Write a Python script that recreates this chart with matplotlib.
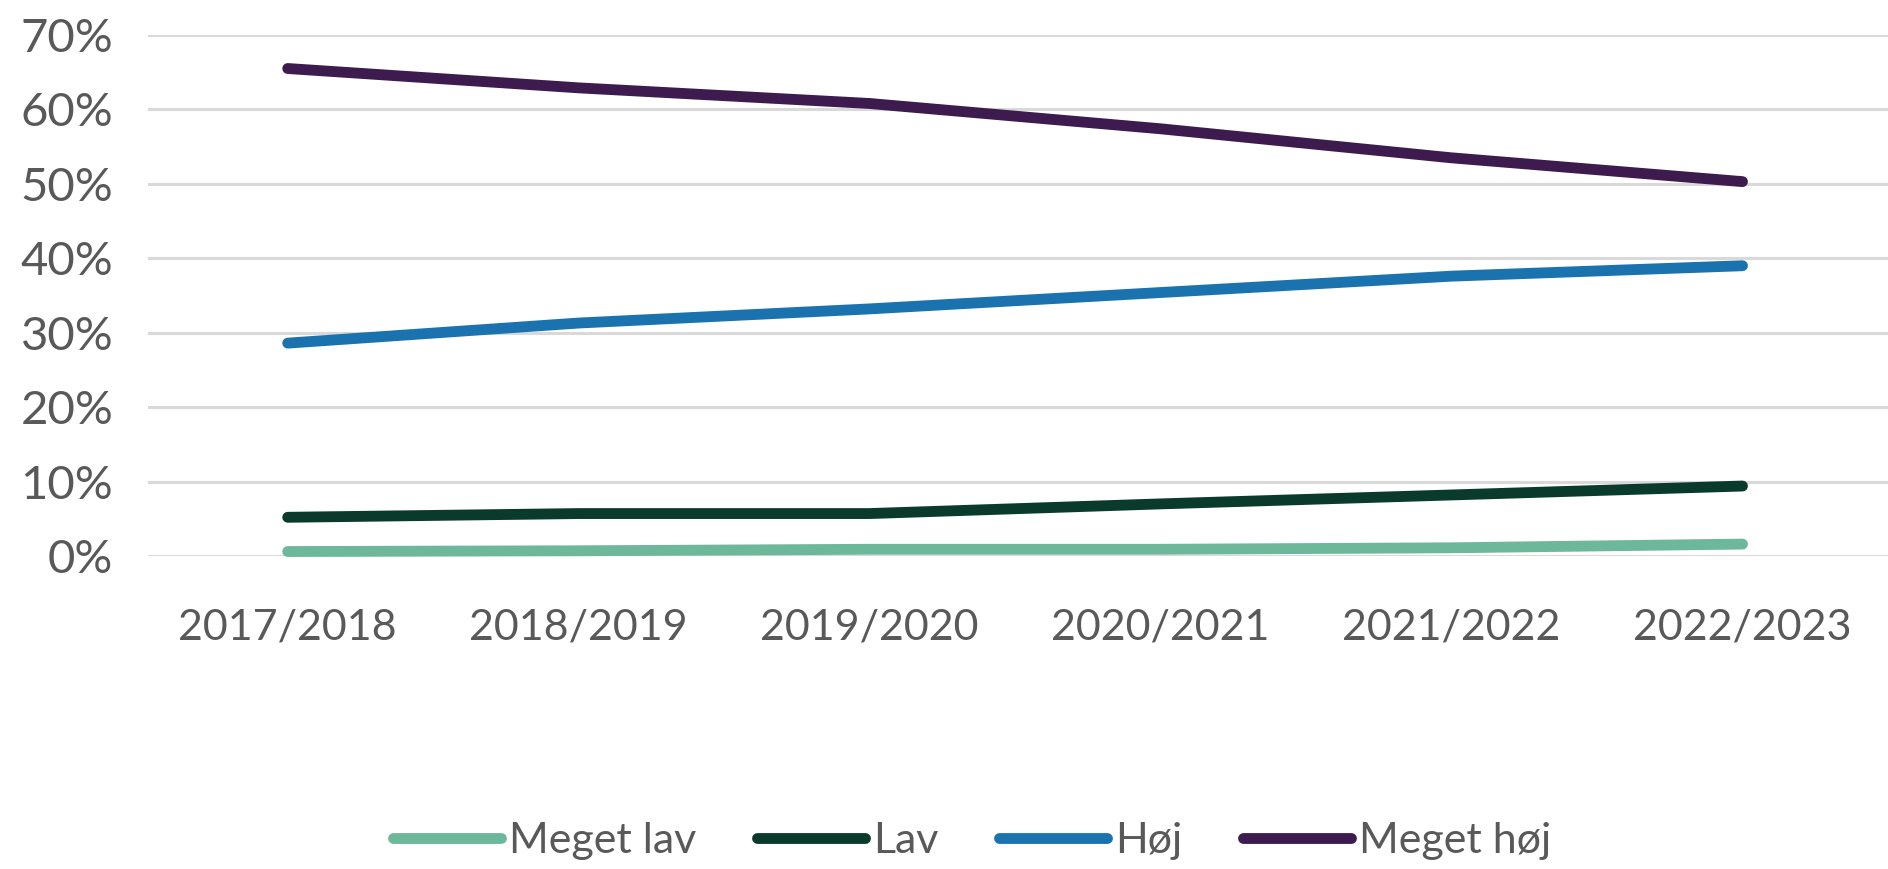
import matplotlib
matplotlib.use("Agg")
import matplotlib.pyplot as plt
from matplotlib.ticker import FuncFormatter, MultipleLocator

plt.rcParams['font.family'] = ['Lato', 'DejaVu Sans']

years = ["2017/2018", "2018/2019", "2019/2020", "2020/2021", "2021/2022", "2022/2023"]
meget_lav = [0.6, 0.7, 0.9, 0.9, 1.1, 1.6]
lav = [5.2, 5.7, 5.7, 7.0, 8.2, 9.4]
hoj = [28.6, 31.3, 33.2, 35.4, 37.6, 39.0]
meget_hoj = [65.5, 62.9, 60.8, 57.4, 53.5, 50.3]

series_names = ["Meget lav", "Lav", "Høj", "Meget høj"]
series_values = [meget_lav, lav, hoj, meget_hoj]
series_colors = ["#6DB89A", "#0A3A2C", "#1A73AE", "#3E1B4F"]

text_color = "#595959"
fs = 31

fig = plt.figure(figsize=(18.88, 8.69), dpi=100)
ax = fig.add_axes([0.0784, 0.3602, 0.9216, 0.5995])

x = list(range(len(years)))
for name, vals, col in zip(series_names, series_values, series_colors):
    ax.plot(x, vals, color=col, lw=7.8, solid_capstyle='round',
            solid_joinstyle='round', label=name, zorder=3, clip_on=False)

ax.set_xlim(-0.48, 5.5)
ax.set_ylim(0, 70)
ax.yaxis.set_major_locator(MultipleLocator(10))
ax.yaxis.set_major_formatter(FuncFormatter(lambda v, p: f"{v:.0f}%"))
ax.set_xticks(x)
ax.set_xticklabels(years)

ax.grid(axis='y', color='#D9D9D9', lw=2.2, zorder=0)
ax.set_axisbelow(True)
for s in ax.spines.values():
    s.set_visible(False)
ax.tick_params(axis='both', length=0, colors=text_color)
ax.tick_params(axis='x', pad=38, labelsize=fs)
ax.tick_params(axis='y', pad=25, labelsize=34)

fig.legend(loc='center', bbox_to_anchor=(0.515, 0.032), ncol=4, frameon=False,
           fontsize=fs, handlelength=2.5, handletextpad=0.2, columnspacing=1.4,
           labelcolor=text_color)

fig.savefig("out.png", dpi=100, facecolor='white')
